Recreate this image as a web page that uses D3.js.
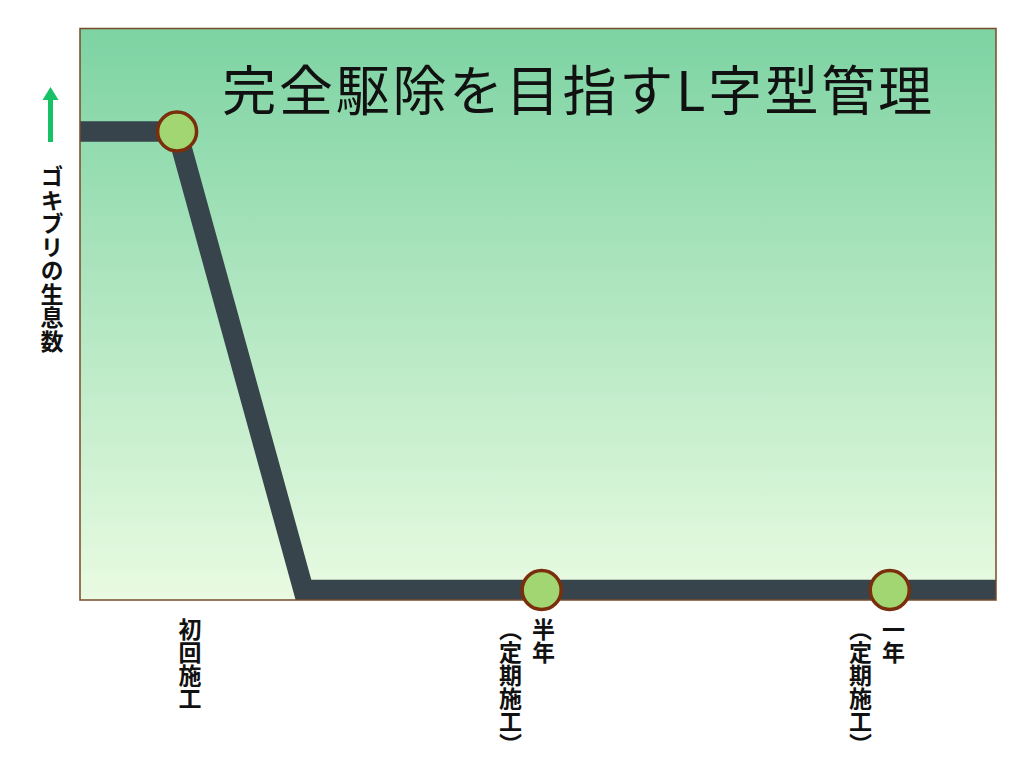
<!DOCTYPE html>
<html>
<head>
<meta charset="utf-8">
<script src="https://cdn.jsdelivr.net/npm/d3@7"></script>
<style>
  html, body { margin: 0; padding: 0; background: #ffffff; }
  svg { display: block; }
</style>
</head>
<body>
<svg id="chart" width="1024" height="768"></svg>
<script>
// ---- data ----
const chartTitle = "完全駆除を目指すL字型管理";
const yAxisLabel = "ゴキブリの生息数";
// timeline position (percent of span) and cockroach population (relative)
const timeline = [0, 10.6, 24.4, 50.4, 88.4, 100];
const population = [100, 100, 0, 0, 0, 0];
// treatment points
const treatTime = [10.6, 50.4, 88.4];
const treatPop = [100, 0, 0];
// tick labels (each: columns, right to left) and their positions
const tickLabels = [["初回施工"], ["半年", "（定期施工）"], ["一年", "（定期施工）"]];
const tickPos = [12.0, 50.6, 88.8];

// ---- layout ----
const svg = d3.select("#chart");
const plot = { left: 80, right: 996, top: 28.5, bottom: 600 };

const x = d3.scaleLinear().domain([0, 100]).range([plot.left, plot.right]);
const y = d3.scaleLinear().domain([0, 100]).range([590, 131.5]);

const defs = svg.append("defs");
const grad = defs.append("linearGradient")
  .attr("id", "bg").attr("x1", 0).attr("y1", 0).attr("x2", 0).attr("y2", 1);
grad.append("stop").attr("offset", "0%").attr("stop-color", "#7dd3a3");
grad.append("stop").attr("offset", "100%").attr("stop-color", "#e9fbe2");

defs.append("clipPath").attr("id", "clip")
  .append("rect")
  .attr("x", plot.left).attr("y", plot.top)
  .attr("width", plot.right - plot.left).attr("height", plot.bottom - plot.top);

svg.append("rect")
  .attr("x", plot.left).attr("y", plot.top)
  .attr("width", plot.right - plot.left).attr("height", plot.bottom - plot.top)
  .attr("fill", "url(#bg)");

// title
svg.append("text")
  .attr("x", 578.5).attr("y", 111)
  .attr("text-anchor", "middle")
  .attr("font-family", "'Noto Sans CJK JP', sans-serif")
  .attr("font-size", 54)
  .attr("letter-spacing", 2.7)
  .attr("fill", "#111")
  .text(chartTitle);

// line
const pts = timeline.map((t, i) => [t, population[i]]);
const line = d3.line().x(d => x(d[0])).y(d => y(d[1]));
svg.append("g").attr("clip-path", "url(#clip)")
  .append("path")
  .attr("d", line(pts))
  .attr("fill", "none")
  .attr("stroke", "#37444c")
  .attr("stroke-width", 20.5)
  .attr("stroke-linejoin", "miter");

// border
svg.append("rect")
  .attr("x", plot.left).attr("y", plot.top)
  .attr("width", plot.right - plot.left).attr("height", plot.bottom - plot.top)
  .attr("fill", "none")
  .attr("stroke", "#7a4a2a")
  .attr("stroke-width", 1.5);

// markers
svg.append("g").selectAll("circle")
  .data(treatTime.map((t, i) => [t, treatPop[i]]))
  .join("circle")
  .attr("cx", d => x(d[0])).attr("cy", d => y(d[1]))
  .attr("r", 19.5)
  .attr("fill", "#a2d672")
  .attr("stroke", "#7a2e0c")
  .attr("stroke-width", 3.5);

// y axis arrow
const arrowX = 50.5;
svg.append("line")
  .attr("x1", arrowX).attr("x2", arrowX)
  .attr("y1", 142).attr("y2", 97)
  .attr("stroke", "#17c267").attr("stroke-width", 5);
svg.append("path")
  .attr("d", d3.line()([[arrowX - 8, 100], [arrowX + 8, 100], [arrowX, 87]]) + "Z")
  .attr("fill", "#17c267");

// y label (vertical)
svg.append("text")
  .attr("x", 52).attr("y", 165)
  .style("writing-mode", "vertical-rl")
  .attr("font-family", "'Noto Sans CJK JP', sans-serif")
  .attr("font-weight", "bold")
  .attr("font-size", 23)
  .attr("letter-spacing", 0.5)
  .attr("fill", "#111")
  .text(yAxisLabel);

// tick labels (vertical columns, right to left)
const colGap = 33;
tickLabels.forEach((cols, i) => {
  cols.forEach((txt, j) => {
    svg.append("text")
      .attr("x", x(tickPos[i]) - j * colGap)
      .attr("y", 618)
      .style("writing-mode", "vertical-rl")
      .attr("font-family", "'Noto Sans CJK JP', sans-serif")
      .attr("font-weight", "bold")
      .attr("font-size", 23)
      .attr("fill", "#111")
      .text(txt);
  });
});
</script>
</body>
</html>
